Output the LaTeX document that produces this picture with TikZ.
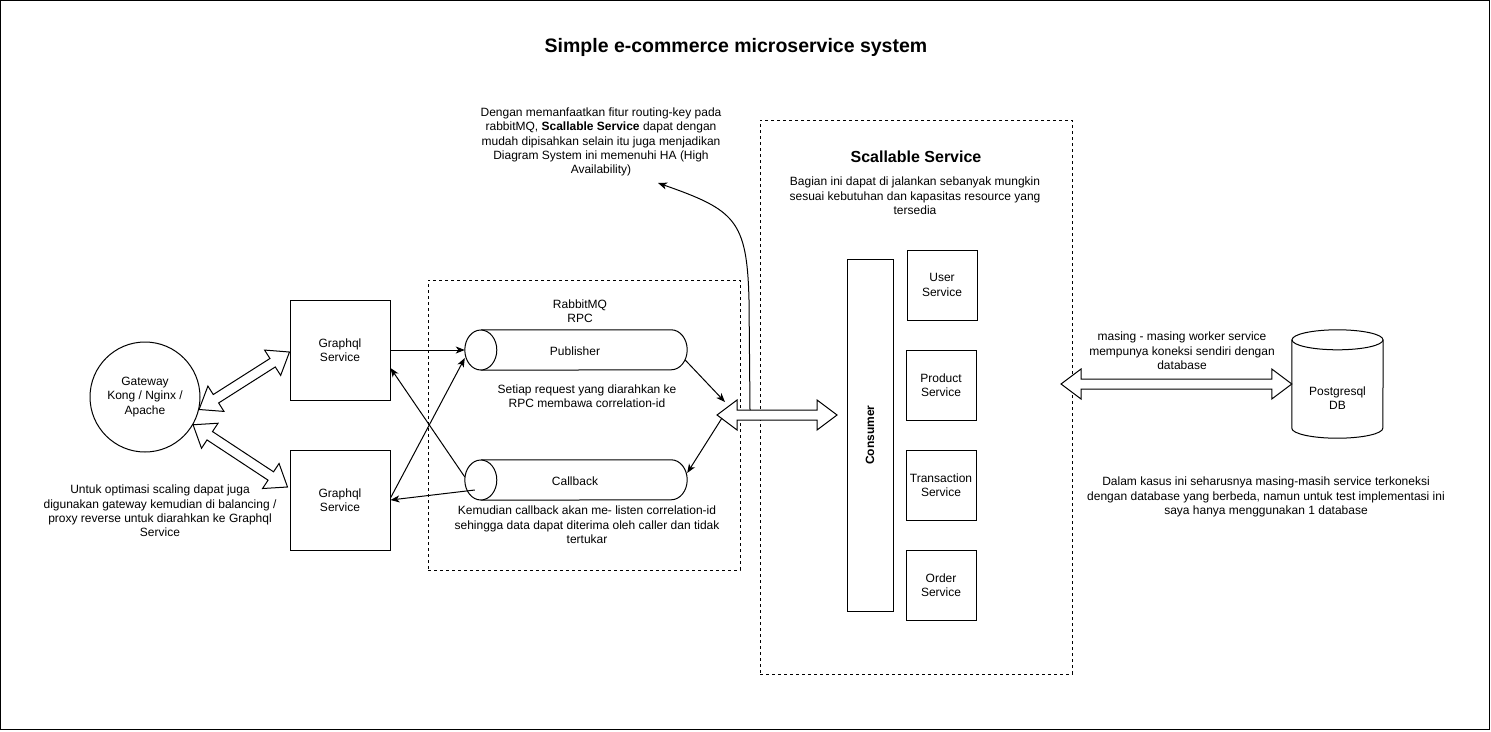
\documentclass[tikz,border=0pt]{standalone}
\usepackage{fontspec}
\setmainfont{Liberation Sans}
\usetikzlibrary{calc,arrows.meta}
\newcommand\flexarr[2]{%
\draw[flexst] (#1)
 -- ($(#1)!20pt!(#2)!15pt!90:(#2)$)
 -- ($(#1)!20pt!(#2)!5pt!90:(#2)$)
 -- ($(#2)!20pt!(#1)!5pt!-90:(#1)$)
 -- ($(#2)!20pt!(#1)!15pt!-90:(#1)$)
 -- (#2)
 -- ($(#2)!20pt!(#1)!15pt!90:(#1)$)
 -- ($(#2)!20pt!(#1)!5pt!90:(#1)$)
 -- ($(#1)!20pt!(#2)!5pt!-90:(#2)$)
 -- ($(#1)!20pt!(#2)!15pt!-90:(#2)$)
 -- cycle;}
\begin{document}
\begin{tikzpicture}[x=1pt,y=-1pt,
  every node/.style={font=\fontsize{12}{14.4}\selectfont, inner sep=0pt, align=center},
  box/.style={draw, line width=1pt, rectangle, fill=white},
  dbox/.style={draw, line width=0.9pt, rectangle, dash pattern=on 3pt off 3pt},
  flexst/.style={draw, fill=white, line width=1pt, line join=miter},
  conn/.style={draw, line width=1pt, -{Stealth[length=9pt,width=7pt,inset=2.5pt]}},
  cyl/.style={draw, line width=1pt, fill=white}
]
\useasboundingbox (0,0) rectangle (1491,731);
\draw[line width=1pt] (0.5,0.5) rectangle (1489.5,729.5);

% title
\node[font=\bfseries\fontsize{19.5}{23}\selectfont] (title) at (736,47.5) {Simple e-commerce microservice system};

% dashed groups
\node[dbox, minimum width=312pt, minimum height=290pt] (mq) at (584,425) {};
\node[dbox, minimum width=312pt, minimum height=554pt] (sc) at (916,397) {};

% gateway and graphql
\node[draw, circle, line width=1pt, minimum size=110pt] (gw) at (145,397) {Gateway\\Kong / Nginx /\\Apache};
\node[box, minimum width=100pt, minimum height=100pt] (gq1) at (340,350) {Graphql\\Service};
\node[box, minimum width=100pt, minimum height=100pt] (gq2) at (340,500) {Graphql\\Service};
\node (note0) at (160,511) {Untuk optimasi scaling dapat juga\\digunakan gateway kemudian di balancing /\\proxy reverse untuk diarahkan ke Graphql\\Service};

% rabbitmq
\node (mqt) at (580,311) {RabbitMQ\\RPC};
\node[minimum width=222pt, minimum height=40pt] (pub) at (576,350) {};
\node[minimum width=222pt, minimum height=40pt] (cb) at (576,480) {};
\draw[cyl] ([xshift=16pt]pub.north west) -- ([xshift=-16pt]pub.north east)
  arc[start angle=90,end angle=-90,x radius=16pt,y radius=20pt] -- ([xshift=16pt]pub.south west);
\draw[cyl] ([xshift=16pt]pub.west) ellipse [x radius=16pt, y radius=20pt];
\draw[cyl] ([xshift=16pt]cb.north west) -- ([xshift=-16pt]cb.north east)
  arc[start angle=90,end angle=-90,x radius=16pt,y radius=20pt] -- ([xshift=16pt]cb.south west);
\draw[cyl] ([xshift=16pt]cb.west) ellipse [x radius=16pt, y radius=20pt];
\node (pubt) at (575,351) {Publisher};
\node (cbt) at (575,481) {Callback};
\node (note2) at (587,396) {Setiap request yang diarahkan ke\\RPC membawa correlation-id};
\node (note3) at (587,525) {Kemudian callback akan me- listen correlation-id\\sehingga data dapat diterima oleh caller dan tidak\\tertukar};

% scalable service
\node[font=\bfseries\fontsize{16}{19}\selectfont] (sct) at (916,157) {Scallable Service};
\node (note4) at (915,196) {Bagian ini dapat di jalankan sebanyak mungkin\\sesuai kebutuhan dan kapasitas resource yang\\tersedia};
\node[box, minimum width=46pt, minimum height=352pt] (cons) at (870,435) {};
\node[rotate=90, font=\bfseries\fontsize{12}{14.4}\selectfont] (const) at (870,435) {Consumer};
\node[box, minimum width=70pt, minimum height=70pt] (us) at (942,285) {User\\Service};
\node[box, minimum width=70pt, minimum height=70pt] (ps) at (941,385) {Product\\Service};
\node[box, minimum width=70pt, minimum height=70pt] (ts) at (941,485) {Transaction\\Service};
\node[box, minimum width=70pt, minimum height=70pt] (os) at (941,585) {Order\\Service};

% top annotation
\node (note1) at (601,142) {Dengan memanfaatkan fitur routing-key pada\\rabbitMQ, \textbf{Scallable Service} dapat dengan\\mudah dipisahkan selain itu juga menjadikan\\Diagram System ini memenuhi HA (High\\Availability)};

% database
\node[minimum width=91pt, minimum height=108pt] (db) at (1337.5,384) {};
\draw[cyl] ([yshift=-10pt]db.north west) -- ([yshift=10pt]db.south west)
  arc[start angle=180,end angle=360,x radius=45.5pt,y radius=10pt] -- ([yshift=-10pt]db.north east);
\draw[cyl] ([yshift=-10pt]db.north) ellipse [x radius=45.5pt, y radius=10pt];
\node (dbt) at (1337.5,398) {Postgresql\\DB};
\node (note5) at (1182,351) {masing - masing worker service\\mempunya koneksi sendiri dengan\\database};
\node (note6) at (1266,497) {Dalam kasus ini seharusnya masing-masih service terkoneksi\\dengan database yang berbeda, namun untuk test implementasi ini\\saya hanya menggunakan 1 database};

% coordinates
\coordinate (g1a) at (gw.-13);
\coordinate (g1b) at ([yshift=-2pt]gq1.west);
\coordinate (g2a) at (gw.-30);
\coordinate (g2b) at ([xshift=-2pt,yshift=13pt]gq2.west);
\coordinate (fa1) at (717,415);
\coordinate (fa2) at (837,415);
\coordinate (dba) at (1061,384);
\coordinate (curveend) at (658,183);

% flex arrows
\flexarr{g1a}{g1b}
\flexarr{g2a}{g2b}
\flexarr{fa1}{fa2}
\flexarr{dba}{db.west}

% connectors
\draw[conn] (gq1.east) -- (pub.west);
\draw[conn] ([yshift=2pt]gq2.east) -- ([yshift=-8pt]pub.west);
\draw[conn] ([yshift=3pt]cb.west) -- ([yshift=-18pt]gq1.east);
\draw[conn] ([xshift=10pt,yshift=-10pt]cb.west) -- (gq2.east);
\draw[conn] ([xshift=-2pt,yshift=-10pt]pub.east) -- ([xshift=8pt,yshift=13pt]fa1);
\draw[conn] ([xshift=5pt,yshift=-3pt]fa1) -- ([yshift=7pt]cb.east);
\draw[conn] ([xshift=33pt,yshift=5pt]fa1) -- (749,300) .. controls (747,220) and (735,210) .. (curveend);
\end{tikzpicture}
\end{document}
